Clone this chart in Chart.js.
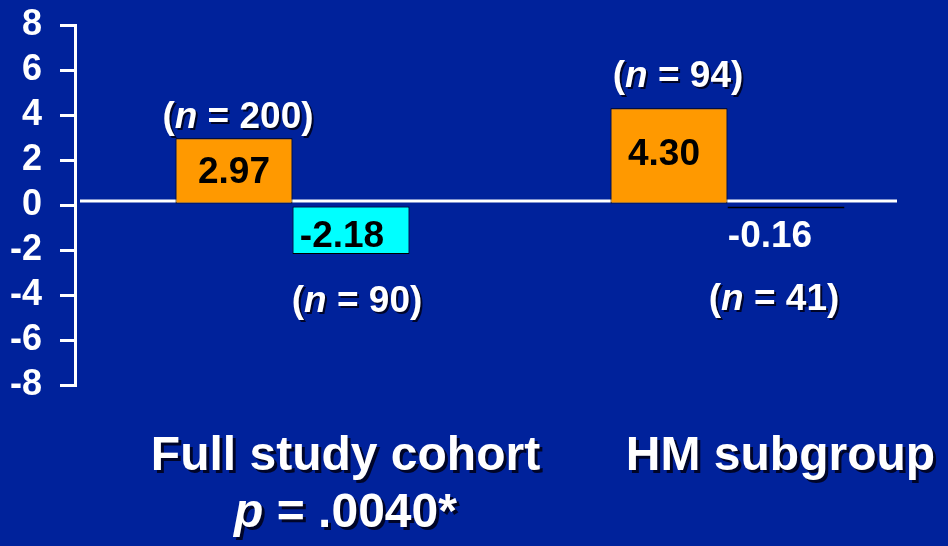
<!DOCTYPE html>
<html>
<head>
<meta charset="utf-8">
<script src="https://cdn.jsdelivr.net/npm/chart.js@4.4.1/dist/chart.umd.min.js"></script>
<style>
    html, body { margin: 0; padding: 0; background: #00229b; }
    #wrap { width: 948px; height: 546px; }
</style>
</head>
<body>
<div id="wrap"><canvas id="chart" width="948" height="546"></canvas></div>
<script>
// data
const categories = ['Full study cohort', 'HM subgroup'];
const pLabels = ['.0040*', ''];           // second line under the category, '' = none
const orangeValues = [2.97, 4.30];
const cyanValues = [-2.18, -0.16];
const orangeN = [200, 94];
const cyanN = [90, 41];
const yTicks = [-8, -6, -4, -2, 0, 2, 4, 6, 8];

const FONT = '"Liberation Sans", Arial, sans-serif';

// label offsets (pixels) relative to each bar
const orangeValueOffset = [[0, 12], [-5, 9.5]];   // from bar middle
const cyanValueOffset = [[-9, 16.5], [-16, 38]];  // 2nd is below the bar
const orangeNOffset = [[4, -10], [9, -21]];       // from bar top
const cyanNOffset = [[6, 58], [-12, 101]];        // from bar bottom

function shadowOn(ctx) {
    ctx.shadowColor = 'rgba(0, 0, 20, 0.85)';
    ctx.shadowOffsetX = 2;
    ctx.shadowOffsetY = 2;
    ctx.shadowBlur = 0;
}

// draws text made of [text, italic] pieces, centred on x
function drawPieces(ctx, pieces, x, y, size) {
    let total = 0;
    const widths = pieces.map(p => {
        ctx.font = (p[1] ? 'italic ' : '') + 'bold ' + size + 'px ' + FONT;
        const w = ctx.measureText(p[0]).width;
        total += w;
        return w;
    });
    let cx = x - total / 2;
    pieces.forEach((p, i) => {
        ctx.font = (p[1] ? 'italic ' : '') + 'bold ' + size + 'px ' + FONT;
        ctx.fillText(p[0], cx, y);
        cx += widths[i];
    });
}

const zeroLine = {
    id: 'zeroLine',
    beforeDatasetsDraw(chart) {
        const ctx = chart.ctx;
        const y = chart.scales.y.getPixelForValue(0) - 4;
        ctx.save();
        ctx.strokeStyle = '#ffffff';
        ctx.lineWidth = 3;
        ctx.beginPath();
        ctx.moveTo(chart.chartArea.left + 5, y);
        ctx.lineTo(897, y);
        ctx.stroke();
        ctx.restore();
    }
};

const barLabels = {
    id: 'barLabels',
    afterDatasetsDraw(chart) {
        const ctx = chart.ctx;
        const orange = chart.getDatasetMeta(0).data;
        const cyan = chart.getDatasetMeta(1).data;
        ctx.save();
        ctx.textBaseline = 'alphabetic';

        orange.forEach((bar, i) => {
            const mid = (bar.y + bar.base) / 2;
            ctx.fillStyle = '#000000';
            ctx.font = 'bold 37px ' + FONT;
            ctx.textAlign = 'center';
            ctx.fillText(orangeValues[i].toFixed(2), bar.x + orangeValueOffset[i][0], mid + orangeValueOffset[i][1]);
            ctx.textAlign = 'left';
            ctx.save();
            shadowOn(ctx);
            ctx.fillStyle = '#ffffff';
            drawPieces(ctx, [['(', false], ['n', true], [' = ' + orangeN[i] + ')', false]],
                bar.x + orangeNOffset[i][0], bar.y + orangeNOffset[i][1], 37);
            ctx.restore();
        });

        cyan.forEach((bar, i) => {
            const mid = (bar.y + bar.base) / 2;
            const inside = Math.abs(bar.y - bar.base) > 40;
            ctx.fillStyle = inside ? '#000000' : '#ffffff';
            ctx.font = 'bold 37px ' + FONT;
            ctx.textAlign = 'center';
            const ref = inside ? mid : bar.y;
            ctx.fillText(cyanValues[i].toFixed(2), bar.x + cyanValueOffset[i][0], ref + cyanValueOffset[i][1]);
            ctx.textAlign = 'left';
            ctx.save();
            shadowOn(ctx);
            ctx.fillStyle = '#ffffff';
            drawPieces(ctx, [['(', false], ['n', true], [' = ' + cyanN[i] + ')', false]],
                bar.x + cyanNOffset[i][0], bar.y + cyanNOffset[i][1], 37);
            ctx.restore();
        });
        ctx.restore();
    }
};

const categoryLabels = {
    id: 'categoryLabels',
    afterDraw(chart) {
        const ctx = chart.ctx;
        const xs = chart.scales.x;
        const bottom = chart.chartArea.bottom;
        ctx.save();
        shadowOn(ctx);
        ctx.shadowOffsetX = 3;
        ctx.shadowOffsetY = 3;
        ctx.fillStyle = '#ffffff';
        ctx.textBaseline = 'alphabetic';
        categories.forEach((c, i) => {
            const x = xs.getPixelForValue(i) + 53;
            ctx.textAlign = 'center';
            ctx.font = 'bold 48px ' + FONT;
            ctx.fillText(c, x, bottom + 85);
            if (pLabels[i]) {
                ctx.textAlign = 'left';
                drawPieces(ctx, [['p', true], [' = ' + pLabels[i], false]], x, bottom + 142, 48);
            }
        });
        ctx.restore();
    }
};

new Chart(document.getElementById('chart'), {
    type: 'bar',
    data: {
        labels: categories,
        datasets: [
            {
                label: 'Orange',
                data: orangeValues,
                backgroundColor: '#ff9900',
                borderColor: '#000000',
                borderWidth: 1,
                borderSkipped: false
            },
            {
                label: 'Cyan',
                data: cyanValues,
                backgroundColor: '#00ffff',
                borderColor: '#000000',
                borderWidth: 1,
                borderSkipped: false
            }
        ]
    },
    options: {
        responsive: false,
        animation: false,
        datasets: {
            bar: { barPercentage: 1, categoryPercentage: 0.538 }
        },
        layout: { padding: { left: 0, top: 25, right: 3, bottom: 161 } },
        plugins: {
            legend: { display: false },
            tooltip: { enabled: false }
        },
        scales: {
            x: { display: false },
            y: {
                min: -8,
                max: 8,
                afterFit(scale) {
                    scale.width = 75;
                    scale.paddingTop = 0;
                    scale.paddingBottom = 0;
                },
                afterBuildTicks(scale) { scale.ticks = yTicks.map(v => ({ value: v })); },
                border: { display: true, color: '#ffffff', width: 3 },
                grid: {
                    drawOnChartArea: false,
                    drawTicks: true,
                    tickLength: 15,
                    color: '#ffffff',
                    lineWidth: 3
                },
                ticks: {
                    color: '#ffffff',
                    padding: 18,
                    autoSkip: false,
                    font: { family: FONT, size: 36, weight: 'bold' }
                }
            }
        }
    },
    plugins: [zeroLine, barLabels, categoryLabels]
});
</script>
</body>
</html>
